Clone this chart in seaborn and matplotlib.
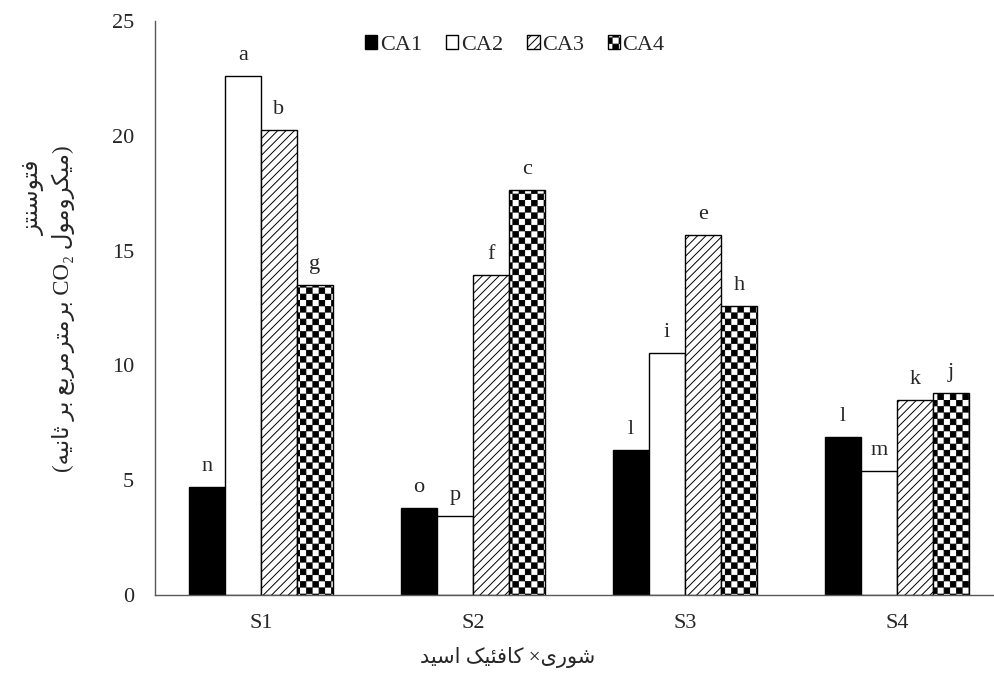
import warnings
warnings.filterwarnings('ignore')
import numpy as np
import pandas as pd
import matplotlib
matplotlib.use('Agg')
import matplotlib.pyplot as plt
import matplotlib.hatch as mhatch
import matplotlib.patches as mpatches
from matplotlib.path import Path
import seaborn as sns

# ---------------- data ----------------
salinity = ['S1', 'S2', 'S3', 'S4']
series = ['CA1', 'CA2', 'CA3', 'CA4']
ca1 = [4.7, 3.8, 6.3, 6.9]
ca2 = [22.6, 3.45, 10.55, 5.4]
ca3 = [20.25, 13.95, 15.7, 8.5]
ca4 = [13.5, 17.65, 12.6, 8.8]
letters_ca1 = ['n', 'o', 'l', 'l']
letters_ca2 = ['a', 'p', 'i', 'm']
letters_ca3 = ['b', 'f', 'e', 'k']
letters_ca4 = ['g', 'c', 'h', 'j']
yticks = [0, 5, 10, 15, 20, 25]
ylabel_line1 = 'فتوسنتز'
ylabel_line2 = '(میکرومول CO₂ برمترمربع بر ثانیه)'
xlabel_text = 'شوری× کافئیک اسید'

# ------------- Persian shaping (presentation forms, visual order) -------------
FORMS = {
    'ا': ('\uFE8D', '\uFE8E', None, None),
    'ب': ('\uFE8F', '\uFE90', '\uFE91', '\uFE92'),
    'ت': ('\uFE95', '\uFE96', '\uFE97', '\uFE98'),
    'ث': ('\uFE99', '\uFE9A', '\uFE9B', '\uFE9C'),
    'د': ('\uFEA9', '\uFEAA', None, None),
    'ر': ('\uFEAD', '\uFEAE', None, None),
    'ز': ('\uFEAF', '\uFEB0', None, None),
    'س': ('\uFEB1', '\uFEB2', '\uFEB3', '\uFEB4'),
    'ش': ('\uFEB5', '\uFEB6', '\uFEB7', '\uFEB8'),
    'ع': ('\uFEC9', '\uFECA', '\uFECB', '\uFECC'),
    'ف': ('\uFED1', '\uFED2', '\uFED3', '\uFED4'),
    'ل': ('\uFEDD', '\uFEDE', '\uFEDF', '\uFEE0'),
    'م': ('\uFEE1', '\uFEE2', '\uFEE3', '\uFEE4'),
    'ن': ('\uFEE5', '\uFEE6', '\uFEE7', '\uFEE8'),
    'ه': ('\uFEE9', '\uFEEA', '\uFEEB', '\uFEEC'),
    'و': ('\uFEED', '\uFEEE', None, None),
    'ئ': ('\uFE89', '\uFE8A', '\uFE8B', '\uFE8C'),
    '\u06CC': ('\uFBFC', '\uFBFD', '\uFBFE', '\uFBFF'),
    '\u064A': ('\uFBFC', '\uFBFD', '\uFBFE', '\uFBFF'),
    '\u06A9': ('\uFB8E', '\uFB8F', '\uFB90', '\uFB91'),
    '\u0643': ('\uFB8E', '\uFB8F', '\uFB90', '\uFB91'),
}
MIRROR = {'(': ')', ')': '('}


def shape_word(w):
    """Return the word in visual (left-to-right drawing) order."""
    if not any(c in FORMS for c in w):
        return w
    out = []
    for i, ch in enumerate(w):
        if ch not in FORMS:
            out.append(MIRROR.get(ch, ch))
            continue
        prev = w[i - 1] if i > 0 else None
        nxt = w[i + 1] if i + 1 < len(w) else None
        jp = prev in FORMS and FORMS[prev][2] is not None
        jn = nxt in FORMS and FORMS[ch][2] is not None
        iso, fin, ini, med = FORMS[ch]
        if jp and jn:
            out.append(med)
        elif jp:
            out.append(fin)
        elif jn:
            out.append(ini)
        else:
            out.append(iso)
    return ''.join(reversed(out))


def rtl(text):
    words = text.split(' ')
    return ' '.join(shape_word(w) for w in reversed(words))


# ------------- checkerboard hatch -------------
class CheckerHatch(mhatch.HatchPatternBase):
    def __init__(self, hatch, density):
        self.n = 16 if 'c' in hatch else 0
        self.num_vertices = (self.n * self.n // 2) * 5

    def set_vertices_and_codes(self, vertices, codes):
        n = self.n
        s = 1.0 / n
        d = 0.004
        k = 0
        for i in range(n):
            for j in range(n):
                if (i + j) % 2 == 0:
                    x0, y0 = i * s + d, j * s + d
                    x1, y1 = (i + 1) * s - d, (j + 1) * s - d
                    vertices[k:k + 5] = [(x0, y0), (x1, y0), (x1, y1), (x0, y1), (x0, y0)]
                    codes[k:k + 5] = [Path.MOVETO, Path.LINETO, Path.LINETO,
                                      Path.LINETO, Path.CLOSEPOLY]
                    k += 5


mhatch._hatch_types.append(CheckerHatch)

# ------------- style -------------
sns.set_style('white')
plt.rcParams['font.family'] = ['Liberation Serif', 'DejaVu Sans']
plt.rcParams['hatch.linewidth'] = 0.7
plt.rcParams['hatch.color'] = 'black'
FS = 16

df = pd.DataFrame({
    'S': salinity * 4,
    'CA': [s for s in series for _ in salinity],
    'v': ca1 + ca2 + ca3 + ca4,
})

W, H = 995, 688
fig = plt.figure(figsize=(W / 100, H / 100), dpi=100)
ax = fig.add_axes([155 / W, 1 - 595 / H, 848 / W, 574 / H])

sns.barplot(data=df, x='S', y='v', hue='CA', order=salinity, hue_order=series,
            width=0.68, palette=['black', 'white', 'white', 'white'], saturation=1,
            edgecolor='black', linewidth=1.0, errorbar=None, legend=False, ax=ax)

hatches = [None, None, '////', 'c']
letters = [letters_ca1, letters_ca2, letters_ca3, letters_ca4]
for cont, hatch, labs in zip(ax.containers, hatches, letters):
    for bar, lab in zip(cont, labs):
        if hatch:
            bar.set_hatch(hatch)
        ax.annotate(lab, (bar.get_x() + bar.get_width() / 2, bar.get_height()),
                    xytext=(0, 11.5), textcoords='offset points',
                    ha='center', va='baseline', fontsize=FS)

ax.set_ylim(0, 25)
ax.set_yticks(yticks)
ax.set_xlabel('')
ax.set_ylabel('')
ax.tick_params(axis='both', length=0, labelsize=FS)
ax.tick_params(axis='y', pad=15)
ax.tick_params(axis='x', pad=13.5)
for sp in ['top', 'right']:
    ax.spines[sp].set_visible(False)
for sp in ['left', 'bottom']:
    ax.spines[sp].set_color('#595959')
    ax.spines[sp].set_linewidth(1.0)

handles = [
    mpatches.Patch(facecolor='black', edgecolor='black'),
    mpatches.Patch(facecolor='white', edgecolor='black'),
    mpatches.Patch(facecolor='white', edgecolor='black', hatch='////'),
    mpatches.Patch(facecolor='white', edgecolor='black', hatch='c'),
]
ax.legend(handles, series, loc='center', bbox_to_anchor=(515 / W, 1 - 45 / H),
          bbox_transform=fig.transFigure, ncol=4, frameon=False, fontsize=FS,
          handlelength=0.55, handleheight=0.55, handletextpad=0.1,
          columnspacing=1.1, borderpad=0)

# axis titles (Persian, shaped and laid out right-to-left)
fam = ['Liberation Serif', 'DejaVu Sans']
fig.text(508 / W, 1 - 658 / H, rtl(xlabel_text), ha='center', va='center',
         fontsize=15, family=fam)
# rotated RTL lines: right end (top) aligned
fig.text(34 / W, 1 - 160 / H, rtl(ylabel_line1), rotation=90,
         ha='center', va='top', fontsize=16.5, family=fam)
fig.text(63 / W, 1 - 145 / H, rtl(ylabel_line2), rotation=90,
         ha='center', va='top', fontsize=16.5, family=fam)

fig.savefig('out.png', dpi=100)
